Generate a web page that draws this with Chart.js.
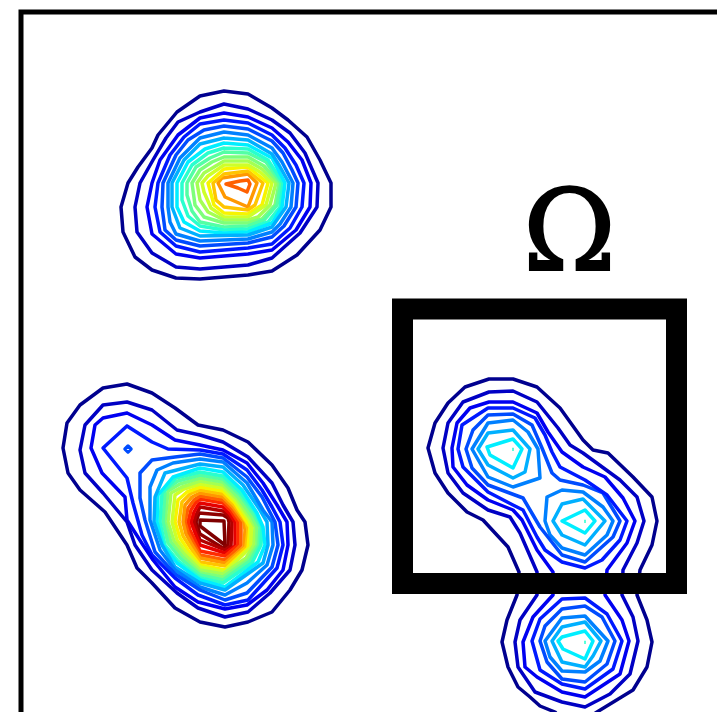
<!DOCTYPE html>
<html>
<head>
<meta charset="utf-8">
<style>
  html, body { margin: 0; padding: 0; background: #fff; overflow: hidden; }
  canvas { display: block; }
</style>
<script src="https://cdn.jsdelivr.net/npm/chart.js@4"></script>
</head>
<body>
<canvas id="contourChart" width="717" height="712"></canvas>
<script>
// contour levels, low to high
var levelColors = ["#00008f", "#0000c4", "#0000f1", "#0019ff", "#004cff", "#0080ff", "#00b0ff", "#00eeff",
  "#29ffce", "#53ffa4", "#7dff7a", "#a4ff53", "#ceff29", "#f7f400", "#ffc400", "#ff9800", "#ff6000",
  "#ff2a00", "#e60000", "#b20000", "#8f0000", "#7f0000"];

// top left peak, one ring per level
var topPeak = [
  [[224,91],[248,94],[272,108],[288,120],[307,137],[320,160],[331,183],[331,207],[320,230],[297,255],[272,271],[248,275],[200,279],[176,278],[152,270],[135,257],[123,232],[121,207],[128,183],[138,167],[152,148],[158,135],[177,112],[200,96]],
  [[224,104],[248,109],[272,120],[290,133],[305,153],[318,183],[317,207],[300,233],[272,258],[248,265],[200,269],[176,267],[152,253],[137,232],[135,207],[140,183],[153,160],[166,138],[178,122],[200,112]],
  [[224,113],[248,117],[272,128],[288,142],[302,160],[311,183],[310,207],[296,230],[272,250],[248,254],[200,258],[176,254],[152,234],[147,207],[152,183],[160,160],[178,135],[200,118]],
  [[224,120],[248,123],[272,135],[285,148],[296,165],[304,183],[302,207],[290,228],[272,244],[248,248],[200,252],[176,246],[160,232],[155,207],[158,183],[170,155],[184,137],[200,124]],
  [[224,126],[248,129],[272,141],[283,153],[292,170],[298,183],[296,207],[284,226],[272,237],[248,243],[200,246],[176,240],[165,230],[162,207],[163,183],[176,155],[188,140],[204,130]],
  [[224,132],[248,135],[272,148],[282,162],[293,183],[291,207],[280,224],[272,232],[248,239],[200,241],[176,234],[170,222],[168,207],[168,183],[180,158],[200,138]],
  [[224,138],[248,140],[272,154],[279,165],[289,183],[286,207],[272,227],[248,235],[200,236],[180,228],[172,207],[172,183],[184,160],[200,144]],
  [[224,143],[248,145],[272,158],[285,183],[282,207],[272,223],[248,232],[224,233],[200,231],[184,222],[177,207],[177,183],[188,162],[205,149]],
  [[224,148],[248,149],[268,160],[283,183],[280,207],[268,222],[248,229],[224,230],[200,226],[188,216],[182,200],[182,183],[192,165],[208,153]],
  [[224,152],[248,153],[266,162],[281,183],[277,205],[264,220],[248,226],[224,227],[200,222],[192,211],[187,195],[187,183],[196,167],[210,158]],
  [[224,157],[248,157],[264,166],[279,183],[275,205],[262,219],[248,223],[224,223],[204,217],[195,205],[192,183],[200,170],[212,162]],
  [[224,161],[248,161],[262,169],[276,183],[270,205],[258,217],[248,220],[224,220],[208,212],[200,200],[197,183],[204,173]],
  [[224,165],[248,165],[260,172],[272,183],[266,205],[248,217],[224,217],[211,208],[204,192],[202,183],[208,176]],
  [[224,169],[248,167],[268,183],[262,205],[248,214],[224,213],[214,205],[208,183]],
  [[224,174],[248,171],[263,183],[255,205],[248,210],[224,207],[216,200],[213,183]],
  [[222,178],[248,174],[257,183],[248,207],[225,197],[218,183]],
  [[226,184],[240,181],[248,180],[250,184],[247,192],[238,188]]
];

// lower left peak with its shoulder
var leftPeak = [
  [[127,384],[152,393],[175,408],[198,425],[223,430],[248,442],[272,465],[288,488],[297,510],[305,522],[308,545],[302,570],[290,590],[272,612],[248,622],[225,627],[200,622],[175,608],[152,583],[137,568],[127,545],[105,512],[80,490],[68,473],[63,448],[67,423],[80,405],[103,388]],
  [[127,402],[152,410],[177,430],[200,435],[223,442],[248,457],[272,483],[283,505],[293,522],[295,545],[290,570],[270,593],[248,612],[225,617],[198,608],[177,593],[152,570],[135,545],[127,522],[103,493],[85,473],[80,450],[85,425],[103,405]],
  [[127,413],[152,425],[175,440],[200,445],[223,450],[247,463],[263,483],[277,505],[287,522],[288,545],[283,570],[267,590],[247,605],[225,609],[198,602],[175,587],[153,560],[143,545],[127,520],[125,497],[102,473],[91,448],[95,425],[103,418]],
  [[127,426],[152,442],[168,449],[200,450],[223,454],[247,470],[262,490],[272,507],[280,522],[283,545],[277,568],[248,600],[225,605],[198,595],[175,578],[152,555],[142,535],[133,503],[127,478],[103,448]],
  [[152,460],[175,457],[200,454],[223,458],[247,477],[262,497],[275,522],[278,545],[272,567],[247,593],[225,600],[200,590],[175,574],[155,552],[145,520],[140,498],[140,473]],
  [[150,487],[157,470],[173,463],[200,459],[223,462],[247,483],[263,510],[272,522],[273,545],[267,565],[247,583],[225,595],[200,587],[175,570],[160,550],[150,520]],
  [[155,497],[165,473],[200,464],[223,467],[243,485],[260,510],[267,522],[268,545],[263,563],[225,590],[200,583],[175,567],[162,545],[154,522]],
  [[158,495],[173,477],[200,468],[223,472],[242,490],[257,513],[263,527],[265,545],[258,562],[225,587],[200,580],[177,563],[163,545],[157,522]],
  [[160,522],[162,493],[176,478],[200,472],[223,476],[240,492],[255,512],[262,527],[261,545],[252,563],[223,583],[200,578],[178,561],[165,545]],
  [[163,522],[165,490],[178,481],[200,475],[223,479],[240,495],[254,515],[260,527],[259,545],[250,561],[223,580],[200,575],[180,558],[168,543]],
  [[165,522],[168,491],[180,484],[200,478],[223,482],[238,497],[252,517],[257,527],[257,545],[248,560],[223,577],[200,573],[182,556],[171,542]],
  [[168,522],[171,493],[182,487],[200,481],[223,485],[237,499],[250,518],[255,527],[254,545],[246,558],[223,574],[200,570],[184,554],[174,541]],
  [[172,522],[175,495],[184,489],[200,484],[223,488],[236,501],[249,520],[252,527],[251,547],[225,572],[200,567],[186,552],[177,540]],
  [[175,522],[178,500],[187,492],[200,487],[223,491],[235,503],[247,522],[250,527],[248,548],[225,570],[200,565],[188,550],[180,538]],
  [[179,522],[182,502],[190,494],[200,490],[223,494],[234,505],[246,522],[248,530],[246,547],[225,566],[200,562],[190,547],[183,536]],
  [[183,522],[185,505],[192,497],[200,493],[223,497],[233,507],[244,522],[245,530],[244,547],[225,563],[200,558],[192,545],[186,534]],
  [[185,522],[188,508],[194,500],[200,496],[223,500],[232,509],[241,522],[241,545],[234,552],[225,560],[200,555],[193,542],[188,532]],
  [[188,522],[191,510],[196,502],[200,499],[223,503],[231,511],[238,522],[238,545],[225,556],[200,551],[195,540],[190,530]],
  [[191,522],[194,512],[198,505],[200,503],[223,507],[230,514],[235,522],[235,546],[225,553],[200,545],[196,535]],
  [[194,522],[196,515],[200,507],[223,511],[229,516],[232,522],[231,546],[225,550],[200,540],[197,532]],
  [[196,522],[199,513],[223,515],[228,518],[229,522],[228,545],[223,548],[200,534]],
  [[200,520],[224,521],[225,545],[200,526]]
];
var shoulderRing = [[128,446],[131,449],[128,452],[125,449]];

// levels 0-2 wrap both lobes in the square and the one below it
var linkedRings = [
  [[489,379],[513,379],[537,387],[560,408],[583,440],[593,450],[608,453],[633,477],[652,497],[657,521],[652,545],[640,570],[637,595],[647,620],[652,642],[647,667],[633,690],[597,712],[585,720],[562,720],[555,712],[540,706],[530,697],[518,687],[508,667],[502,642],[507,620],[517,595],[519,572],[508,547],[483,520],[467,512],[448,493],[435,473],[428,448],[435,423],[448,403],[465,387]],
  [[489,392],[513,391],[537,402],[558,428],[570,445],[583,453],[620,480],[637,497],[644,521],[637,543],[623,570],[622,595],[633,617],[638,641],[630,674],[610,694],[585,707],[562,702],[535,692],[518,667],[515,642],[520,620],[537,595],[537,572],[520,533],[510,517],[488,510],[463,493],[448,473],[443,448],[448,423],[463,402]],
  [[489,402],[513,402],[537,413],[548,432],[562,452],[583,467],[605,477],[623,498],[635,521],[627,543],[607,570],[605,595],[622,620],[629,641],[620,674],[585,697],[562,692],[537,677],[525,667],[523,642],[533,617],[553,595],[553,572],[537,550],[522,520],[513,510],[488,500],[467,485],[453,467],[452,448],[457,423],[470,408]]
];
// levels 3-4 inside the square
var squareRings = [
  [[488,408],[513,408],[535,418],[545,435],[552,452],[560,467],[585,480],[607,495],[627,521],[620,540],[602,560],[585,568],[562,562],[545,550],[537,537],[523,510],[513,505],[488,492],[463,467],[458,449],[462,425]],
  [[488,415],[513,414],[532,425],[542,448],[552,473],[560,480],[583,485],[603,493],[620,521],[613,537],[585,562],[562,555],[540,527],[523,498],[488,485],[472,468],[466,449],[473,430]]
];
// levels 5-7, split into two lobes
var upperLobe = [
  [[472,449],[488,423],[513,420],[528,432],[538,449],[540,478],[513,487],[488,477]],
  [[478,449],[488,433],[513,430],[530,449],[525,472],[513,478],[488,465]],
  [[487,447],[513,439],[522,449],[513,468],[490,455]]
];
var lowerLobe = [
  [[545,521],[547,497],[562,490],[583,492],[603,507],[613,521],[607,535],[585,555],[562,548],[550,535]],
  [[553,521],[562,504],[583,499],[605,521],[585,545],[562,535]],
  [[562,521],[585,510],[595,521],[585,533]]
];
// levels 3-7 below the square
var bottomLobe = [
  [[562,599],[585,598],[607,614],[622,641],[613,669],[585,689],[562,684],[540,670],[532,641],[540,619]],
  [[562,609],[585,606],[602,617],[615,641],[607,664],[585,682],[562,679],[547,662],[540,641],[545,626]],
  [[562,618],[585,616],[608,641],[600,661],[585,672],[562,671],[550,657],[545,641]],
  [[562,627],[585,622],[601,641],[593,656],[585,667],[562,662],[552,641]],
  [[558,641],[562,637],[585,631],[593,641],[585,659],[563,649]]
];
// barely visible level 8 ticks at the lobe tops
var peakTicks = [
  [[513,448],[513,451]],
  [[585,520],[585,523]],
  [[585,641],[585,644]]
];

var frameLine = [[21,730],[21,12],[730,12]];
var squareLine = [[402.5,309],[676.5,309],[676.5,583.5],[402.5,583.5],[402.5,309]];
var squareLabel = "\u03A9";
var labelAt = [569.5, 270];

function toPoints(pts) {
  return pts.map(function(p) { return {x: p[0], y: p[1]}; });
}

var datasets = [];

function addRing(ring, level, width) {
  datasets.push({
    data: toPoints(ring.concat([ring[0]])),
    borderColor: levelColors[level],
    borderWidth: width || 3.5,
    borderJoinStyle: "round",
    borderCapStyle: "round",
    showLine: true,
    pointRadius: 0,
    order: 2
  });
}

function addRings(rings, firstLevel) {
  for (var i in rings) {
    addRing(rings[i], firstLevel + Number(i));
  }
}

addRings(topPeak, 0);
addRings(leftPeak, 0);
addRing(shoulderRing, 4);
addRings(linkedRings, 0);
addRings(squareRings, 3);
addRings(upperLobe, 5);
addRings(lowerLobe, 5);
addRings(bottomLobe, 3);
for (var i in peakTicks) {
  addRing(peakTicks[i], 8, 1);
}

datasets.push({
  data: toPoints(squareLine), borderColor: "#000", borderWidth: 21,
  borderJoinStyle: "miter", borderCapStyle: "square",
  showLine: true, pointRadius: 0, order: 1
});
datasets.push({
  data: toPoints(frameLine), borderColor: "#000", borderWidth: 5,
  borderJoinStyle: "miter",
  showLine: true, pointRadius: 0, order: 1
});

var labelPlugin = {
  id: "squareLabel",
  afterDraw: function(chart) {
    var ctx = chart.ctx;
    var x = chart.scales.x.getPixelForValue(labelAt[0]);
    var y = chart.scales.y.getPixelForValue(labelAt[1]);
    ctx.save();
    ctx.fillStyle = "#000";
    ctx.strokeStyle = "#000";
    ctx.lineWidth = 2;
    ctx.font = "112px 'DejaVu Serif'";
    ctx.textAlign = "center";
    ctx.textBaseline = "alphabetic";
    ctx.fillText(squareLabel, x, y);
    ctx.strokeText(squareLabel, x, y);
    ctx.restore();
  }
};

var ctx = document.getElementById("contourChart").getContext("2d");
var contourChart = new Chart(ctx, {
  type: "scatter",
  data: { datasets: datasets },
  plugins: [labelPlugin],
  options: {
    responsive: false,
    animation: false,
    events: [],
    layout: { padding: 0 },
    plugins: { legend: { display: false }, tooltip: { enabled: false } },
    scales: {
      x: { type: "linear", min: 0, max: 717, display: false },
      y: { type: "linear", min: 0, max: 712, reverse: true, display: false }
    }
  }
});
</script>
</body>
</html>
